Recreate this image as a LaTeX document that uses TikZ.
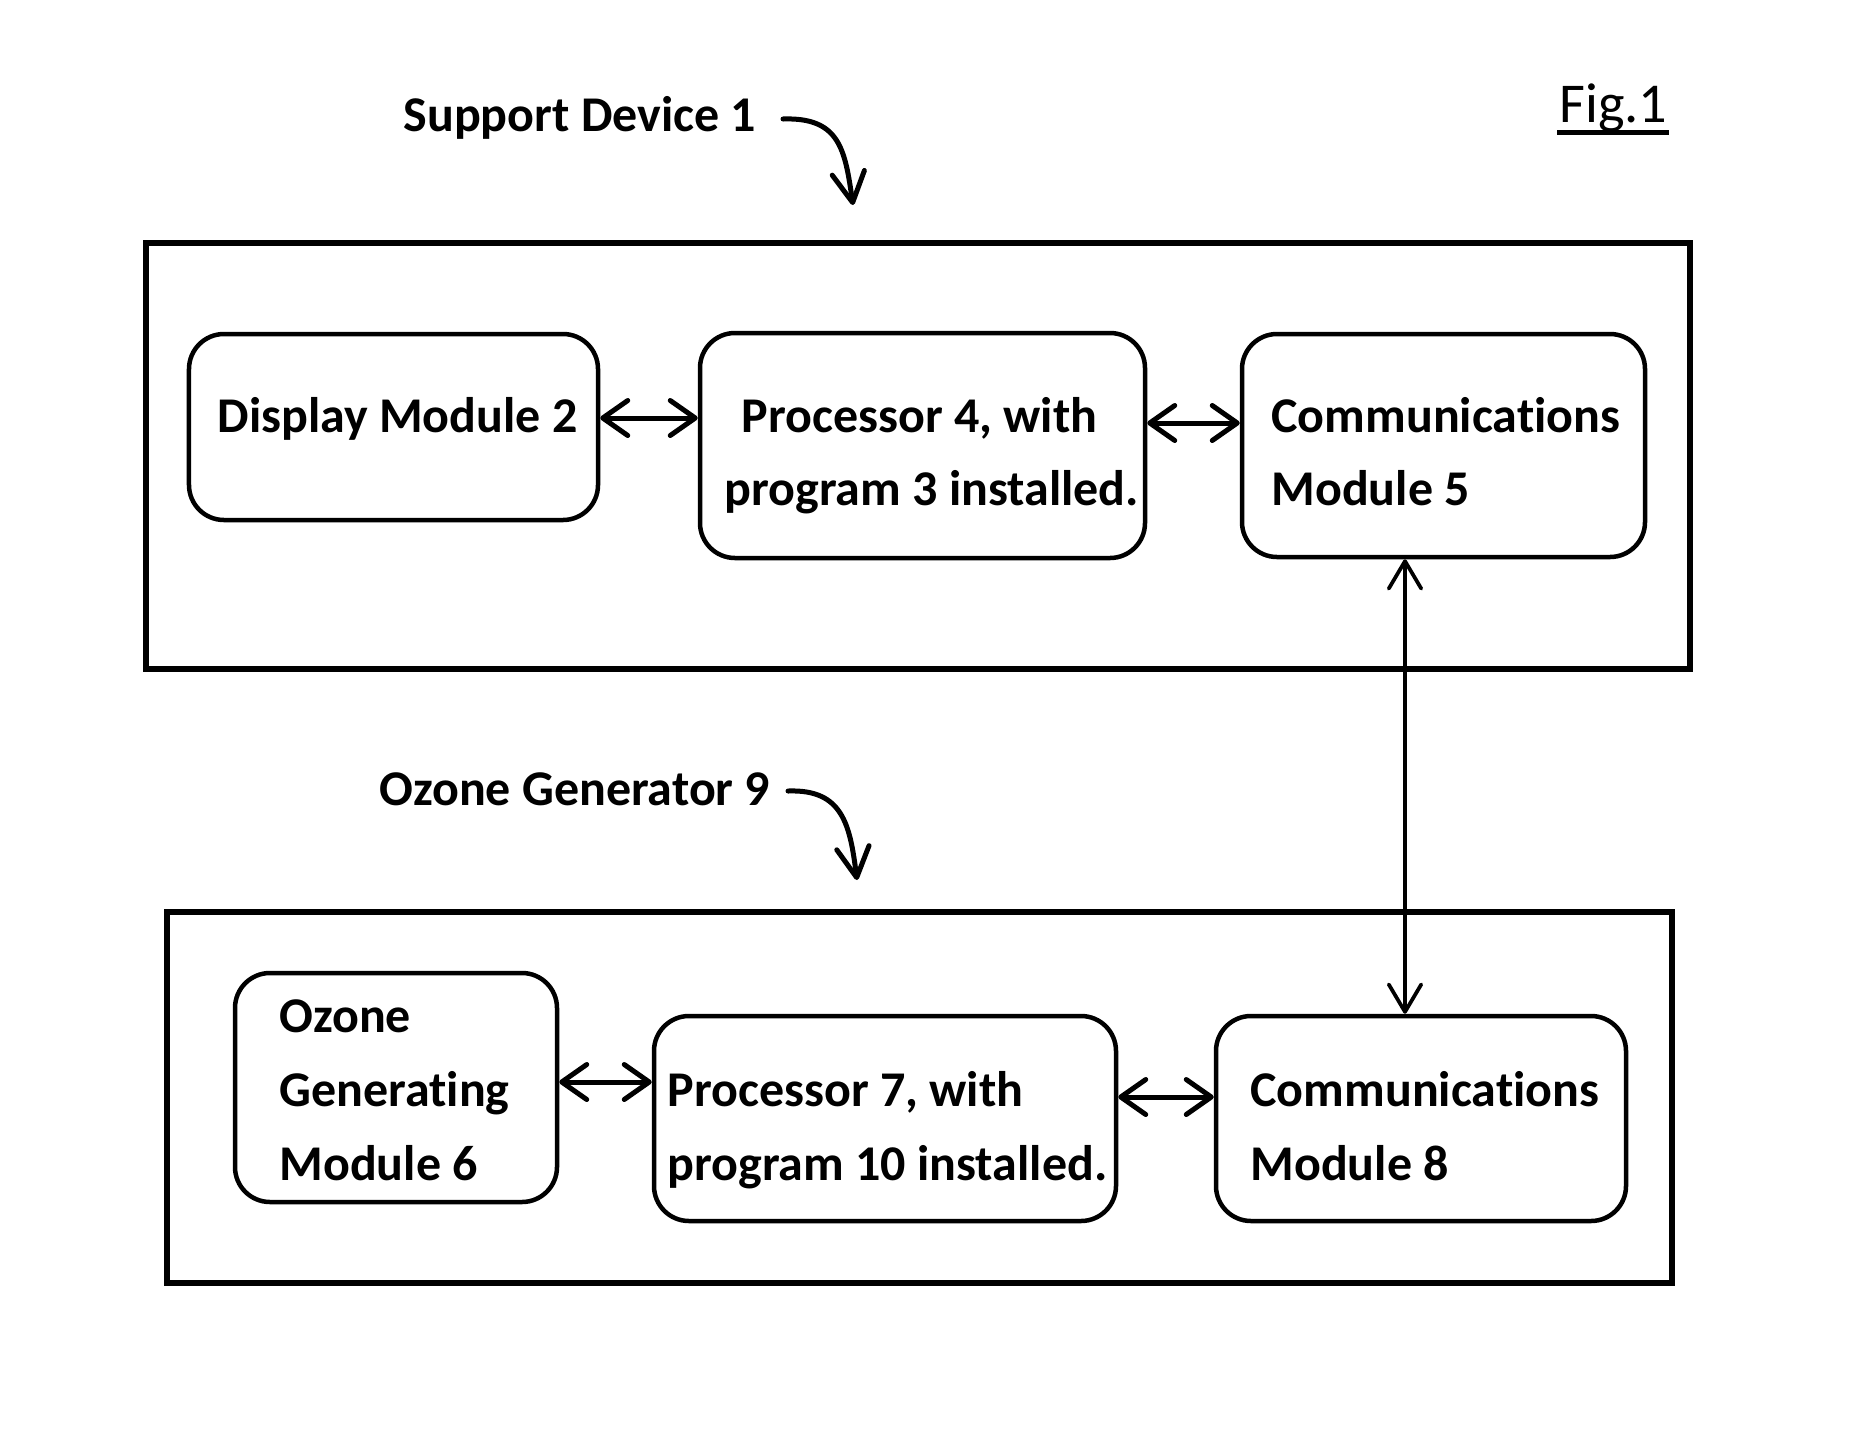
\documentclass[tikz,border=0pt]{standalone}
\usepackage{fontspec}
\setmainfont[Ligatures={NoCommon}]{Carlito}
\newcommand{\noligbrk}{\kern0pt }
\usetikzlibrary{arrows.meta,calc}
\begin{document}
\begin{tikzpicture}[x=0.4pt,y=-0.4pt,
  modbox/.style={draw, line width=1.8pt, rounded corners=14pt, inner sep=0pt},
  outerbox/.style={draw, line width=2.4pt, inner sep=0pt},
  txt/.style={anchor=base west, inner sep=0pt, font=\fontsize{20}{24}\selectfont\bfseries},
  dbl/.style={line width=2pt, {Straight Barb[length=10pt,width=14pt,round]}-{Straight Barb[length=10pt,width=14pt,round]}},
  vdbl/.style={line width=1.5pt, {Straight Barb[length=11pt,width=13pt,round]}-{Straight Barb[length=11pt,width=13pt,round]}},
  curv/.style={line width=2pt, line cap=round, -{Straight Barb[length=12pt,width=13pt,round]}}]
\useasboundingbox (0,0) rectangle (1873,1447);

% outer boxes
\node[outerbox, minimum width=617.6pt, minimum height=170.4pt] (dev) at (918,456) {};
\node[outerbox, minimum width=602pt, minimum height=148.4pt] (gen) at (919.5,1097.5) {};

% module boxes
\node[modbox, minimum width=163.6pt, minimum height=74.4pt] (disp) at (393.5,427) {};
\node[modbox, minimum width=178pt, minimum height=90pt] (proca) at (922.5,445.5) {};
\node[modbox, minimum width=161.2pt, minimum height=89.2pt] (comma) at (1443.5,445.5) {};
\node[modbox, minimum width=128.8pt, minimum height=91.6pt] (ozg) at (396,1087.5) {};
\node[modbox, minimum width=184.8pt, minimum height=82pt] (procb) at (885,1118.5) {};
\node[modbox, minimum width=164pt, minimum height=82pt] (commb) at (1421,1118.5) {};

% texts
\node[txt] (tdisp) at (217,432) {Display Module 2};
\node[txt] (tproca) at (741,432) {Processor 4, with};
\node[txt] (tprocb) at (724,505) {program 3 installed.};
\node[txt] (tcomma) at (1271,432) {Communicat\noligbrk ions};
\node[txt] (tcommb) at (1271,505) {Module 5};
\node[txt] (tozona) at (279,1032) {Ozone};
\node[txt] (tozonb) at (279,1106) {Generat\noligbrk ing};
\node[txt] (tozonc) at (279,1180) {Module 6};
\node[txt] (tprocc) at (667,1106) {Processor 7, with};
\node[txt] (tprocd) at (667,1180) {program 10 installed.};
\node[txt] (tcommc) at (1250,1106) {Communicat\noligbrk ions};
\node[txt] (tcommd) at (1250,1180) {Module 8};
\node[txt] (lsup) at (403,131) {Support Device 1};
\node[txt] (loz) at (379,805) {Ozone Generator 9};
\node[anchor=base west, inner sep=0pt, font=\fontsize{22.5}{27}\selectfont] (fig) at (1559,122) {Fig.1};
\draw[line width=2pt] ($(fig.base west)+(-2,10)$) -- ($(fig.base east)+(1,10)$);

% connectors
\draw[dbl] (disp.east |- 0,418) -- (proca.west |- 0,418);
\draw[dbl] (proca.east |- 0,423) -- (comma.west |- 0,423);
\draw[dbl] (ozg.east |- 0,1082) -- (procb.west |- 0,1082);
\draw[dbl] (procb.east |- 0,1097) -- (commb.west |- 0,1097);
\draw[vdbl] (1405,0 |- comma.south) -- (1405,0 |- commb.north);

% curved pointer arrows
\coordinate (supstart) at (783,119);
\coordinate (supend) at (853,205);
\coordinate (ozstart) at (788,791);
\coordinate (ozend) at (857,880);
\draw[curv] (supstart) .. controls (840,117) and (845,150) .. (supend);
\draw[curv] (ozstart) .. controls (843,789) and (850,825) .. (ozend);
\end{tikzpicture}
\end{document}
